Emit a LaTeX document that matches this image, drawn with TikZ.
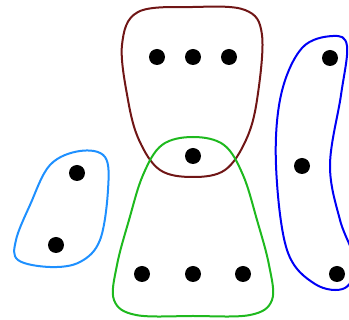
\documentclass[tikz,border=0pt]{standalone}
\definecolor{darkred}{RGB}{112,22,22}
\definecolor{grn}{RGB}{30,185,30}
\definecolor{lblue}{RGB}{30,144,255}
\definecolor{blu}{RGB}{0,0,245}
\begin{document}
\begin{tikzpicture}[x=1pt,y=-1pt,
  dot/.style={circle,fill=black,inner sep=0pt,minimum size=16pt},
  edgeline/.style={line width=2pt}]
\useasboundingbox (0,0) rectangle (349,320);
% hyperedges
\draw[darkred,edgeline] plot[smooth cycle,tension=0.6] coordinates
 {(193,7) (245,10) (262,35) (257,100) (246,140) (225,170) (193,177) (160,170) (139,140) (128,100) (122,45) (138,12)};
\draw[grn,edgeline] plot[smooth cycle,tension=0.6] coordinates
 {(193,137) (224,145) (243,175) (257,220) (269,265) (272,300) (250,315) (193,316) (136,315) (114,300) (117,265) (129,220) (143,175) (162,145)};
\draw[lblue,edgeline] plot[smooth cycle,tension=0.6] coordinates
 {(80,151) (105,157) (108,190) (100,240) (80,262) (50,267) (18,260) (16,240) (30,205) (50,165)};
\draw[blu,edgeline] plot[smooth cycle,tension=0.6] coordinates
 {(333,36) (347,46) (341,95) (330,165) (340,220) (355,262) (345,288) (315,284) (287,250) (276,165) (281,95) (302,48)};
% vertices
\node[dot] (a1) at (157,57) {};
\node[dot] (a2) at (193,57) {};
\node[dot] (a3) at (229,57) {};
\node[dot] (m) at (193,156) {};
\node[dot] (l1) at (77,173) {};
\node[dot] (l2) at (56,245) {};
\node[dot] (b1) at (142,274) {};
\node[dot] (b2) at (193,274) {};
\node[dot] (b3) at (243,274) {};
\node[dot] (r1) at (330,58) {};
\node[dot] (r2) at (302,166) {};
\node[dot] (r3) at (337,274) {};
\end{tikzpicture}
\end{document}
